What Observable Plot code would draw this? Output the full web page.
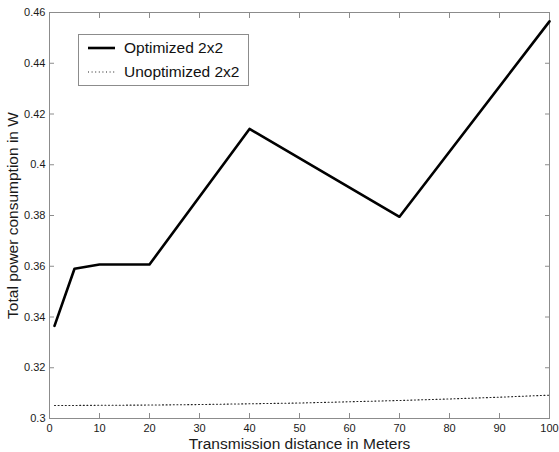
<!DOCTYPE html>
<html>
<head>
<meta charset="utf-8">
<script src="https://cdn.jsdelivr.net/npm/d3@7"></script>
<script src="https://cdn.jsdelivr.net/npm/@observablehq/plot@0.6"></script>
<style>
  html, body { margin: 0; padding: 0; background: white; }
  #wrap { position: relative; width: 559px; height: 452px; }
  #wrap g[aria-label="x-axis label"], #wrap g[aria-label="y-axis label"] { font-size: 15.5px; }
  #legend {
    position: absolute; left: 78px; top: 34px; width: 169px; height: 50px;
    border: 1px solid #8c8c8c; background: white;
    font-family: "Liberation Sans", Arial, sans-serif; font-size: 15.5px; color: #111;
  }
  .row { position: absolute; left: 0; height: 20px; display: flex; align-items: center; }
  .row svg { margin-left: 9px; margin-right: 9px; }
</style>
</head>
<body>
<div id="wrap"></div>
<script>
const distances = [1, 5, 10, 20, 40, 70, 100];
const optimized = [0.3365, 0.359, 0.3607, 0.3607, 0.4141, 0.3795, 0.4565];
const unoptDistances = [1, 10, 20, 30, 40, 50, 60, 70, 80, 90, 100];
const unoptimized = [0.3051, 0.3052, 0.3053, 0.3055, 0.3058, 0.3061, 0.3066, 0.3071, 0.3077, 0.3084, 0.3092];
const xTicks = [0, 10, 20, 30, 40, 50, 60, 70, 80, 90, 100];
const yTicks = [0.3, 0.32, 0.34, 0.36, 0.38, 0.4, 0.42, 0.44, 0.46];
const seriesNames = ["Optimized 2x2", "Unoptimized 2x2"];

const optData = distances.map((d, i) => ({x: d, y: optimized[i]}));
const unoptData = unoptDistances.map((d, i) => ({x: d, y: unoptimized[i]}));
const gray = "#8c8c8c";
const fmt = d => String(+d.toFixed(2));
const ticksOnly = a => {
  if (!Array.isArray(a)) return a;
  const f = a.filter(m => m && typeof m.ariaLabel === "string" && /tick$/.test(m.ariaLabel));
  return f.length ? f : a;
};

const chart = Plot.plot({
  width: 559, height: 452,
  marginLeft: 49, marginRight: 10, marginTop: 12, marginBottom: 34,
  x: {domain: [0, 100]},
  y: {domain: [0.3, 0.46]},
  style: {fontFamily: "Liberation Sans, Arial, sans-serif", fontSize: "11px", color: "#1a1a1a", background: "white"},
  marks: [
    Plot.axisX({ticks: xTicks, anchor: "bottom", tickSize: 0, tickPadding: 6, label: "Transmission distance in Meters", labelAnchor: "center", labelArrow: "none", labelOffset: 30}),
    ticksOnly(Plot.axisX({ticks: xTicks, anchor: "bottom", tickSize: -5, stroke: gray, label: null})),
    ticksOnly(Plot.axisX({ticks: xTicks, anchor: "top", tickSize: -5, stroke: gray, label: null})),
    Plot.axisY({ticks: yTicks, anchor: "left", tickSize: 0, tickPadding: 4, tickFormat: fmt, label: "Total power consumption in W", labelAnchor: "center", labelArrow: "none", labelOffset: 43}),
    ticksOnly(Plot.axisY({ticks: yTicks, anchor: "left", tickSize: -5, stroke: gray, label: null})),
    ticksOnly(Plot.axisY({ticks: yTicks, anchor: "right", tickSize: -5, stroke: gray, label: null})),
    Plot.frame({stroke: gray}),
    Plot.line(unoptData, {x: "x", y: "y", stroke: "#222", strokeWidth: 1.1, strokeDasharray: "1,2.6"}),
    Plot.line(optData, {x: "x", y: "y", stroke: "#000", strokeWidth: 2.6})
  ]
});
document.getElementById("wrap").appendChild(chart);

const legend = document.createElement("div");
legend.id = "legend";
legend.innerHTML = `
  <div class="row" style="top:3px"><svg width="27" height="6"><line x1="0" y1="3" x2="27" y2="3" stroke="#000" stroke-width="2.6"/></svg>${seriesNames[0]}</div>
  <div class="row" style="top:27px"><svg width="27" height="6"><line x1="0" y1="3" x2="27" y2="3" stroke="#222" stroke-width="1.1" stroke-dasharray="1,2.6"/></svg>${seriesNames[1]}</div>`;
document.getElementById("wrap").appendChild(legend);
</script>
</body>
</html>
